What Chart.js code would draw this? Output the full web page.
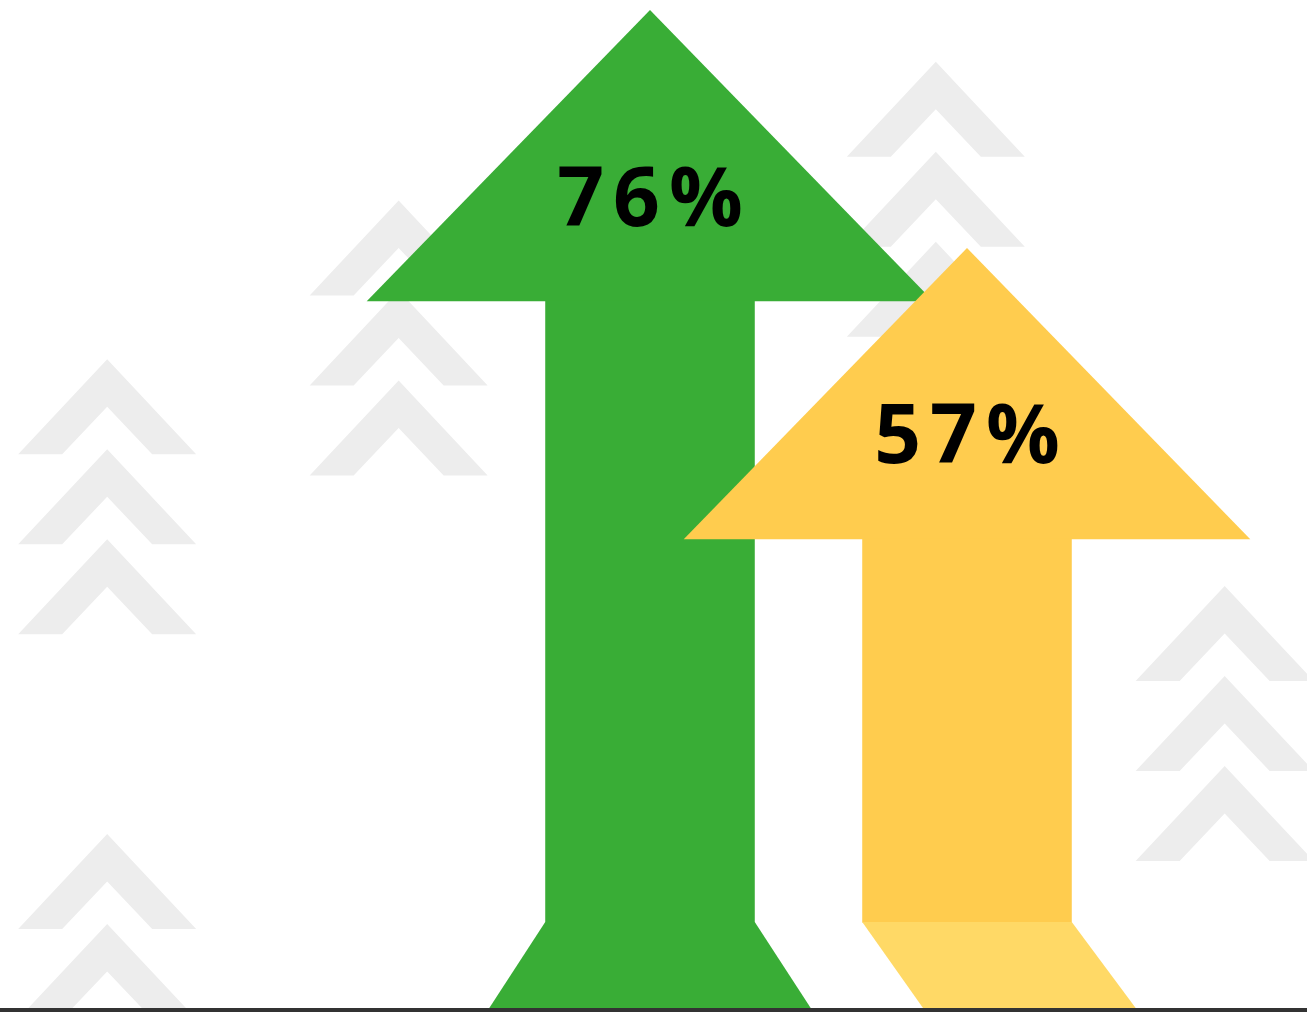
<!DOCTYPE html>
<html>
<head>
<meta charset="utf-8">
<script src="https://cdn.jsdelivr.net/npm/chart.js@4.4.1/dist/chart.umd.min.js"></script>
<style>
  html, body { margin: 0; padding: 0; background: #fff; }
  #wrap { width: 1307px; height: 1012px; }
</style>
</head>
<body>
<div id="wrap"><canvas id="arrowChart" width="1307" height="1012"></canvas></div>
<script>
// data
const categories = ["A", "B"];
const values = [76, 57];
const valueLabels = ["76%", "57%"];

// look of each arrow
const arrowColors = ["#39AD36", "#FFCC4E"];
const baseColors = ["#39AD36", "#FFD966"];
const baseShapes = ["flare", "skew"];

// faint chevron stacks in the background (fractions of the canvas)
const chevronStacks = [
  { cx: 0.082, top: 0.355, count: 3 },
  { cx: 0.305, top: 0.198, count: 3 },
  { cx: 0.716, top: 0.061, count: 3 },
  { cx: 0.937, top: 0.579, count: 3 },
  { cx: 0.082, top: 0.824, count: 3 },
];

function drawChevron(ctx, cx, ty) {
  ctx.beginPath();
  ctx.moveTo(cx, ty);
  ctx.lineTo(cx + 89, ty + 95);
  ctx.lineTo(cx + 45, ty + 95);
  ctx.lineTo(cx, ty + 47.5);
  ctx.lineTo(cx - 45, ty + 95);
  ctx.lineTo(cx - 89, ty + 95);
  ctx.closePath();
  ctx.fill();
}

const arrowPlugin = {
  id: "arrows",
  beforeDatasetsDraw(chart) {
    const ctx = chart.ctx;
    const W = chart.width, H = chart.height;
    ctx.save();
    ctx.beginPath();
    ctx.rect(0, 0, W, chart.chartArea.bottom);
    ctx.clip();
    ctx.fillStyle = "#EDEDED";
    chevronStacks.forEach((s) => {
      for (let i = 0; i < s.count; i++) {
        drawChevron(ctx, s.cx * W, s.top * H + i * 90);
      }
    });
    ctx.restore();
  },
  afterDatasetsDraw(chart) {
    const ctx = chart.ctx;
    const meta = chart.getDatasetMeta(0);
    const bottom = chart.chartArea.bottom;
    meta.data.forEach((bar, i) => {
      const x = bar.x, tip = bar.y, w = bar.width;
      const headH = w * 1.39;
      const half = w * 1.352;
      const baseH = w * 0.41;
      const neck = tip + headH;
      const baseTop = bottom - baseH;

      ctx.save();
      ctx.fillStyle = arrowColors[i];
      ctx.beginPath();
      ctx.moveTo(x, tip);
      ctx.lineTo(x + half, neck);
      ctx.lineTo(x - half, neck);
      ctx.closePath();
      ctx.fill();
      ctx.fillRect(x - w / 2, neck - 0.5, w, baseTop - neck + 1);

      ctx.fillStyle = baseColors[i];
      ctx.beginPath();
      if (baseShapes[i] === "flare") {
        ctx.moveTo(x - w / 2, baseTop);
        ctx.lineTo(x + w / 2, baseTop);
        ctx.lineTo(x + w / 2 + w * 0.267, bottom);
        ctx.lineTo(x - w / 2 - w * 0.267, bottom);
      } else {
        ctx.moveTo(x - w / 2, baseTop);
        ctx.lineTo(x + w / 2, baseTop);
        ctx.lineTo(x + w / 2 + w * 0.305, bottom);
        ctx.lineTo(x - w / 2 + w * 0.29, bottom);
      }
      ctx.closePath();
      ctx.fill();

      ctx.fillStyle = "#000";
      ctx.font = "bold 82px 'Open Sans', sans-serif";
      ctx.letterSpacing = "9px";
      ctx.textAlign = "center";
      ctx.textBaseline = "alphabetic";
      ctx.fillText(valueLabels[i], x + 4.5, tip + headH * 0.74);
      ctx.restore();
    });

    // ground line
    ctx.save();
    ctx.fillStyle = "#333333";
    ctx.fillRect(0, bottom, chart.width, chart.height - bottom);
    ctx.restore();
  },
};

new Chart(document.getElementById("arrowChart"), {
  type: "bar",
  data: {
    labels: categories,
    datasets: [
      {
        data: values,
        backgroundColor: "rgba(0,0,0,0)",
        borderWidth: 0,
        categoryPercentage: 1,
        barPercentage: 0.661,
      },
    ],
  },
  options: {
    responsive: false,
    animation: false,
    layout: { padding: { left: 491.5, right: 181.5, top: 10, bottom: 4 } },
    plugins: { legend: { display: false }, tooltip: { enabled: false } },
    scales: {
      x: { display: false, offset: true },
      y: { display: false, min: -3.7, max: 76 },
    },
  },
  plugins: [arrowPlugin],
});
</script>
</body>
</html>
